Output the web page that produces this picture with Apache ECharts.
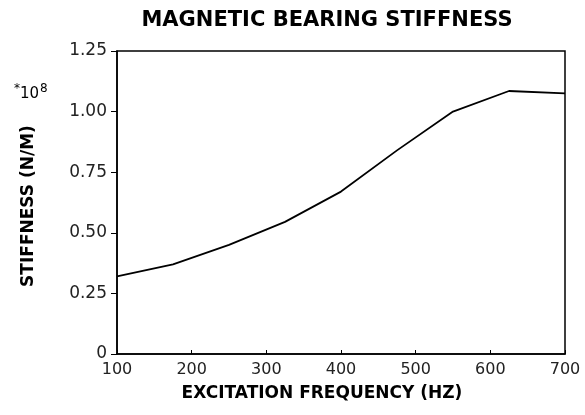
<!DOCTYPE html>
<html><head><meta charset="utf-8">
<script src="https://cdn.jsdelivr.net/npm/echarts@6/dist/echarts.min.js"></script>
<style>html,body{margin:0;padding:0;background:#fff}#c{width:585px;height:415px}</style>
</head><body><div id="c"></div>
<script>
var freqs = [100, 175, 250, 325, 400, 475, 550, 625, 700];
var stiffness = [0.32, 0.37, 0.45, 0.545, 0.67, 0.84, 1.0, 1.085, 1.075];
var xTicks = [100, 200, 300, 400, 500, 600, 700];
var yTicks = [0, 0.25, 0.5, 0.75, 1.0, 1.25];

var chart = echarts.init(document.getElementById('c'), null, {renderer: 'canvas'});
var F = '"DejaVu Sans", "Liberation Sans", Arial, sans-serif';
chart.setOption({
  animation: false,
  backgroundColor: '#fff',
  grid: {left: 117, right: 20, top: 51, bottom: 61, show: true, borderColor: '#000', borderWidth: 1.5, backgroundColor: 'transparent'},
  xAxis: {
    type: 'value', min: xTicks[0], max: xTicks[xTicks.length - 1], interval: 100,
    axisLine: {show: true, lineStyle: {color: '#000', width: 1.5}},
    axisTick: {show: true, inside: true, length: 4, lineStyle: {color: '#000'}},
    axisLabel: {color: '#222', fontFamily: F, fontSize: 16, margin: 8},
    splitLine: {show: false}
  },
  yAxis: {
    type: 'value', min: yTicks[0], max: yTicks[yTicks.length - 1], interval: 0.25,
    axisLine: {show: true, lineStyle: {color: '#000', width: 1.5}},
    axisTick: {show: true, inside: false, length: 6, lineStyle: {color: '#000'}},
    axisLabel: {color: '#222', fontFamily: F, fontSize: 17, margin: 10,
      formatter: function (v) { return v === 0 ? '0' : v.toFixed(2); }},
    splitLine: {show: false}
  },
  graphic: [
    {type: 'text', x: 327, y: 21, style: {text: 'MAGNETIC BEARING STIFFNESS', font: 'bold 21px ' + F, fill: '#000', textAlign: 'center', textVerticalAlign: 'middle'}},
    {type: 'text', x: 322, y: 394, style: {text: 'EXCITATION FREQUENCY (HZ)', font: 'bold 17px ' + F, fill: '#000', textAlign: 'center', textVerticalAlign: 'middle'}},
    {type: 'text', x: 29, y: 206, rotation: Math.PI / 2, style: {text: 'STIFFNESS (N/M)', font: 'bold 17px ' + F, fill: '#000', textAlign: 'center', textVerticalAlign: 'middle'}},
    {type: 'text', x: 14, y: 94, style: {text: '{a|*}{b|10}{c|8}', fill: '#000', textVerticalAlign: 'middle',
      rich: {a: {fontSize: 12, fontFamily: F, fill: '#000', verticalAlign: 'top'}, b: {fontSize: 15, fontFamily: F, fill: '#000'}, c: {fontSize: 12, fontFamily: F, fill: '#000', verticalAlign: 'top', padding: [0, 0, 10, 1]}}}}
  ],
  series: [{
    type: 'line', data: freqs.map(function (f, i) { return [f, stiffness[i]]; }),
    showSymbol: false, symbol: 'none', lineStyle: {color: '#000', width: 1.8}, smooth: false
  }]
});
</script></body></html>
